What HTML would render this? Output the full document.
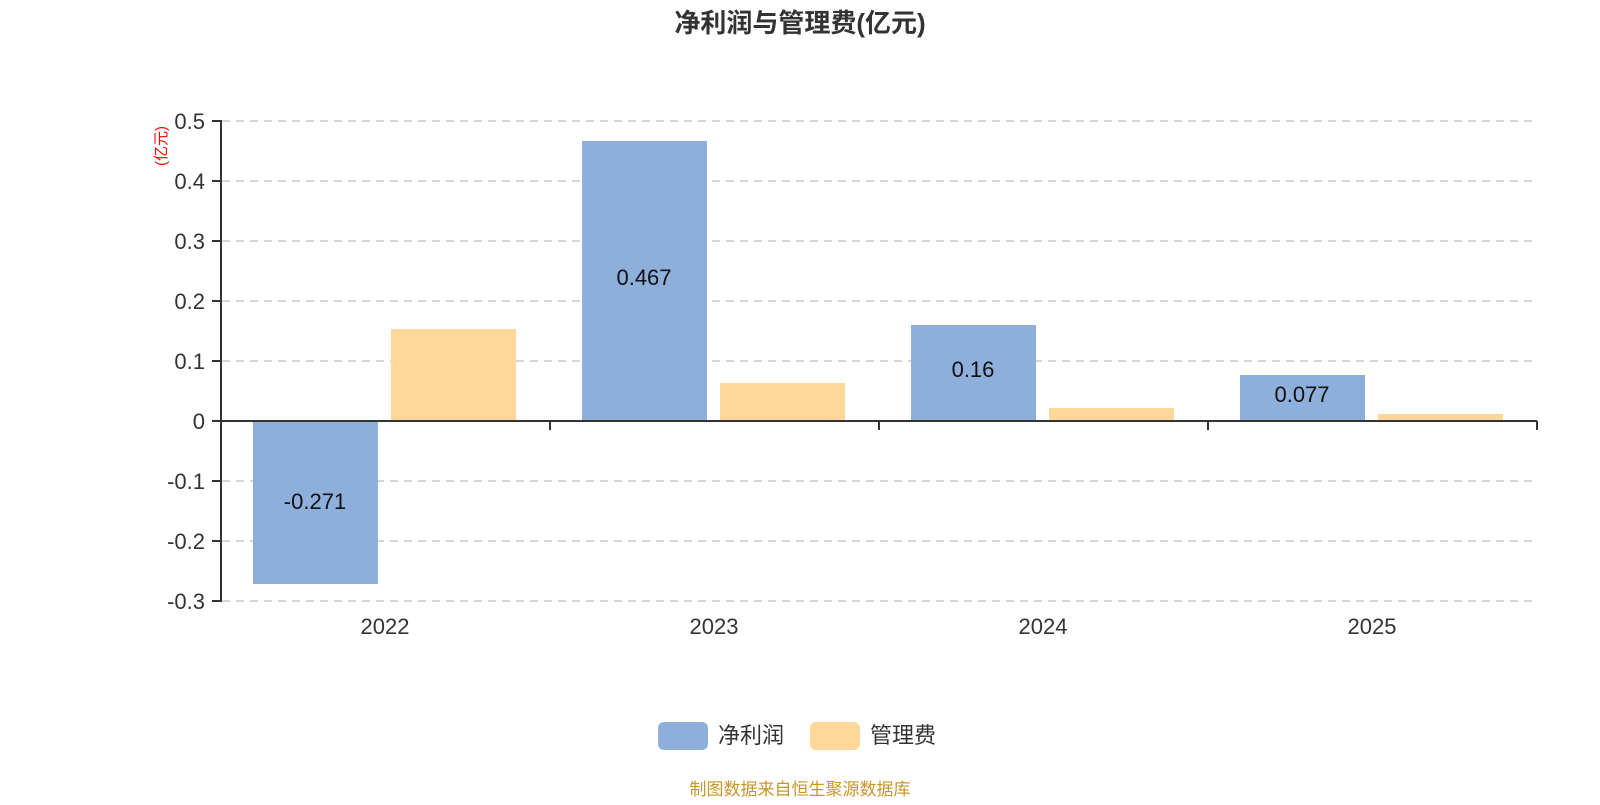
<!DOCTYPE html>
<html><head><meta charset="utf-8"><style>
body{margin:0;background:#fff;}
svg text{font-family:"Liberation Sans","Noto Sans CJK SC",sans-serif;}
</style></head><body>
<svg width="1600" height="800" xmlns="http://www.w3.org/2000/svg">
<text x="800" y="32" text-anchor="middle" font-size="26" font-weight="bold" fill="#333">净利润与管理费(亿元)</text>
<g stroke="#ccc" stroke-width="1.5" stroke-dasharray="8,6">
<line x1="222" y1="121" x2="1537" y2="121"/>
<line x1="222" y1="181" x2="1537" y2="181"/>
<line x1="222" y1="241" x2="1537" y2="241"/>
<line x1="222" y1="301" x2="1537" y2="301"/>
<line x1="222" y1="361" x2="1537" y2="361"/>
<line x1="222" y1="481" x2="1537" y2="481"/>
<line x1="222" y1="541" x2="1537" y2="541"/>
<line x1="222" y1="601" x2="1537" y2="601"/>
</g>
<g fill="#8eaedb">
<rect x="253" y="421" width="125" height="163"/>
<rect x="582" y="141" width="125" height="280"/>
<rect x="911" y="325" width="125" height="96"/>
<rect x="1240" y="375" width="125" height="46"/>
</g>
<g fill="#ffd899">
<rect x="391" y="329" width="125" height="92"/>
<rect x="720" y="383" width="125" height="38"/>
<rect x="1049" y="408" width="125" height="13"/>
<rect x="1378" y="414" width="125" height="7"/>
</g>
<g font-size="22" fill="#111" text-anchor="middle">
<text x="315" y="509">-0.271</text>
<text x="644" y="285">0.467</text>
<text x="973" y="377">0.16</text>
<text x="1302" y="402">0.077</text>
</g>
<g stroke="#333" stroke-width="2" fill="none">
<line x1="221" y1="120" x2="221" y2="602"/>
<line x1="221" y1="421" x2="1537" y2="421"/>
<line x1="550" y1="421" x2="550" y2="430"/>
<line x1="879" y1="421" x2="879" y2="430"/>
<line x1="1208" y1="421" x2="1208" y2="430"/>
<line x1="1537" y1="421" x2="1537" y2="430"/>
<line x1="212" y1="121" x2="221" y2="121"/>
<line x1="212" y1="181" x2="221" y2="181"/>
<line x1="212" y1="241" x2="221" y2="241"/>
<line x1="212" y1="301" x2="221" y2="301"/>
<line x1="212" y1="361" x2="221" y2="361"/>
<line x1="212" y1="421" x2="221" y2="421"/>
<line x1="212" y1="481" x2="221" y2="481"/>
<line x1="212" y1="541" x2="221" y2="541"/>
<line x1="212" y1="601" x2="221" y2="601"/>
</g>
<g font-size="22" fill="#333" text-anchor="end">
<text x="205" y="129">0.5</text>
<text x="205" y="189">0.4</text>
<text x="205" y="249">0.3</text>
<text x="205" y="309">0.2</text>
<text x="205" y="369">0.1</text>
<text x="205" y="429">0</text>
<text x="205" y="489">-0.1</text>
<text x="205" y="549">-0.2</text>
<text x="205" y="609">-0.3</text>
</g>
<g font-size="22" fill="#333" text-anchor="middle">
<text x="385" y="634">2022</text>
<text x="714" y="634">2023</text>
<text x="1043" y="634">2024</text>
<text x="1372" y="634">2025</text>
</g>
<text transform="translate(166,146) rotate(-90)" text-anchor="middle" font-size="15" fill="#f00">(亿元)</text>
<rect x="658" y="722" width="50" height="28" rx="6" fill="#8eaedb"/>
<text x="718" y="743" font-size="22" fill="#333">净利润</text>
<rect x="810" y="722" width="50" height="28" rx="6" fill="#ffd899"/>
<text x="870" y="743" font-size="22" fill="#333">管理费</text>
<text x="800" y="795" text-anchor="middle" font-size="17" fill="#c8962a">制图数据来自恒生聚源数据库</text>
</svg>
</body></html>
